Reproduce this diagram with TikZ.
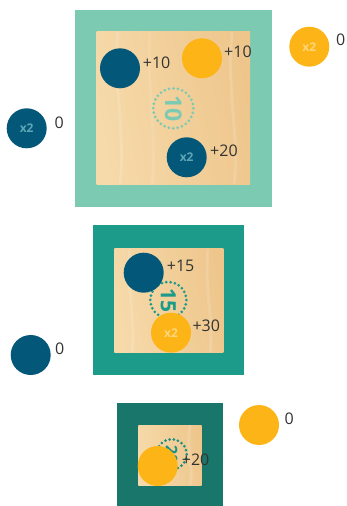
\documentclass[tikz,border=0pt]{standalone}
\usepackage{fontspec}
\setmainfont{Open Sans}
\definecolor{frameA}{HTML}{7CCAB1}
\definecolor{frameB}{HTML}{1D9B8A}
\definecolor{frameC}{HTML}{19766A}
\definecolor{chipblue}{HTML}{03587A}
\definecolor{chipyellow}{HTML}{FDB417}
\definecolor{woodL}{HTML}{F6DAAA}
\definecolor{woodR}{HTML}{EEC68C}
\definecolor{labelgray}{HTML}{333333}
\definecolor{xblue}{HTML}{5EA6B6}
\definecolor{xyellow}{HTML}{FDD67C}
\tikzset{
  wood/.style={left color=woodL, right color=woodR, shading angle=100},
  chip/.style={circle, minimum size=40pt, inner sep=0pt},
  bluechip/.style={chip, fill=chipblue},
  yellowchip/.style={chip, fill=chipyellow},
  xtwo/.style={font=\bfseries\fontsize{12}{13}\selectfont},
  score/.style={anchor=west, inner sep=0pt, text=labelgray, font=\fontsize{16}{18}\selectfont},
  dotring/.style={line width=3pt, line cap=round},
  ringnum/.style={font=\bfseries\fontsize{#1}{#1}\selectfont, rotate=-90, inner sep=0pt},
  grain/.style={white, opacity=0.14, line width=3pt}
}
\begin{document}
\begin{tikzpicture}[x=1pt, y=-1pt]
\useasboundingbox (0,0) rectangle (347,506);
% ---------- top frame ----------
\fill[frameA] (75,9.5) rectangle (271.5,206.5);
\shade[wood] (96.7,31.7) rectangle (250,184.3);
\draw[grain] (118,32) .. controls (112,80) and (126,130) .. (120,184);
\draw[grain] (232,32) .. controls (226,90) and (240,140) .. (234,184);
\draw[grain, opacity=0.1] (150,32) .. controls (146,90) and (158,140) .. (152,184);
\draw[frameA, dotring, dash pattern=on 0pt off 4.49pt] (173.3,108.3) circle[radius=20];
\node[ringnum=23, text=frameA] (r1) at (173.3,108.3) {10};
\node[bluechip] (c1) at (120,68.3) {};
\node[score] (l1) at (142.7,62.3) {+10};
\node[yellowchip] (c2) at (202,58.3) {};
\node[score] (l2) at (224,51.7) {+10};
\node[bluechip, text=xblue, xtwo] (c3) at (186.7,157.3) {x2};
\node[score] (l3) at (210,150.7) {+20};
% outside chips
\node[bluechip, text=xblue, xtwo] (c4) at (26.7,128.3) {x2};
\node[score] (l4) at (54.3,122.3) {0};
\node[yellowchip, text=xyellow, xtwo] (c5) at (309.3,46.7) {x2};
\node[score] (l5) at (336,40) {0};
% ---------- middle frame ----------
\fill[frameB] (93.3,225) rectangle (244.3,375);
\shade[wood] (114.3,248.3) rectangle (223.3,352.7);
\draw[grain] (130,249) .. controls (126,290) and (136,320) .. (132,352);
\draw[grain] (208,249) .. controls (204,290) and (214,320) .. (210,352);
\draw[frameB, dotring, dash pattern=on 0pt off 4.35pt] (168.3,300) circle[radius=18];
\node[ringnum=21, text=frameB] (r2) at (168.3,300) {15};
\node[bluechip] (c6) at (143.7,272.7) {};
\node[score] (l6) at (166.7,265.7) {+15};
\node[yellowchip, text=xyellow, xtwo] (c7) at (171,332.7) {x2};
\node[score] (l7) at (192.3,325.7) {+30};
\node[bluechip] (c8) at (30.7,355) {};
\node[score] (l8) at (55,348.3) {0};
% ---------- bottom frame ----------
\fill[frameC] (117.3,403.3) rectangle (222.7,505.5);
\shade[wood] (138.3,425) rectangle (201.7,485.7);
\draw[grain] (190,425) .. controls (186,450) and (194,470) .. (190,485);
\draw[frameB!70!frameC, dotring, dash pattern=on 0pt off 4.28pt] (171.7,454.3) circle[radius=15];
\node[ringnum=16, text=frameB!70!frameC] (r3) at (171.7,454.3) {20};
\node[score] (l9) at (181.7,459.3) {+20};
\node[yellowchip] (c9) at (157.7,466) {};
\node[yellowchip] (c10) at (259,425) {};
\node[score] (l10) at (284.3,418.3) {0};
\end{tikzpicture}
\end{document}
